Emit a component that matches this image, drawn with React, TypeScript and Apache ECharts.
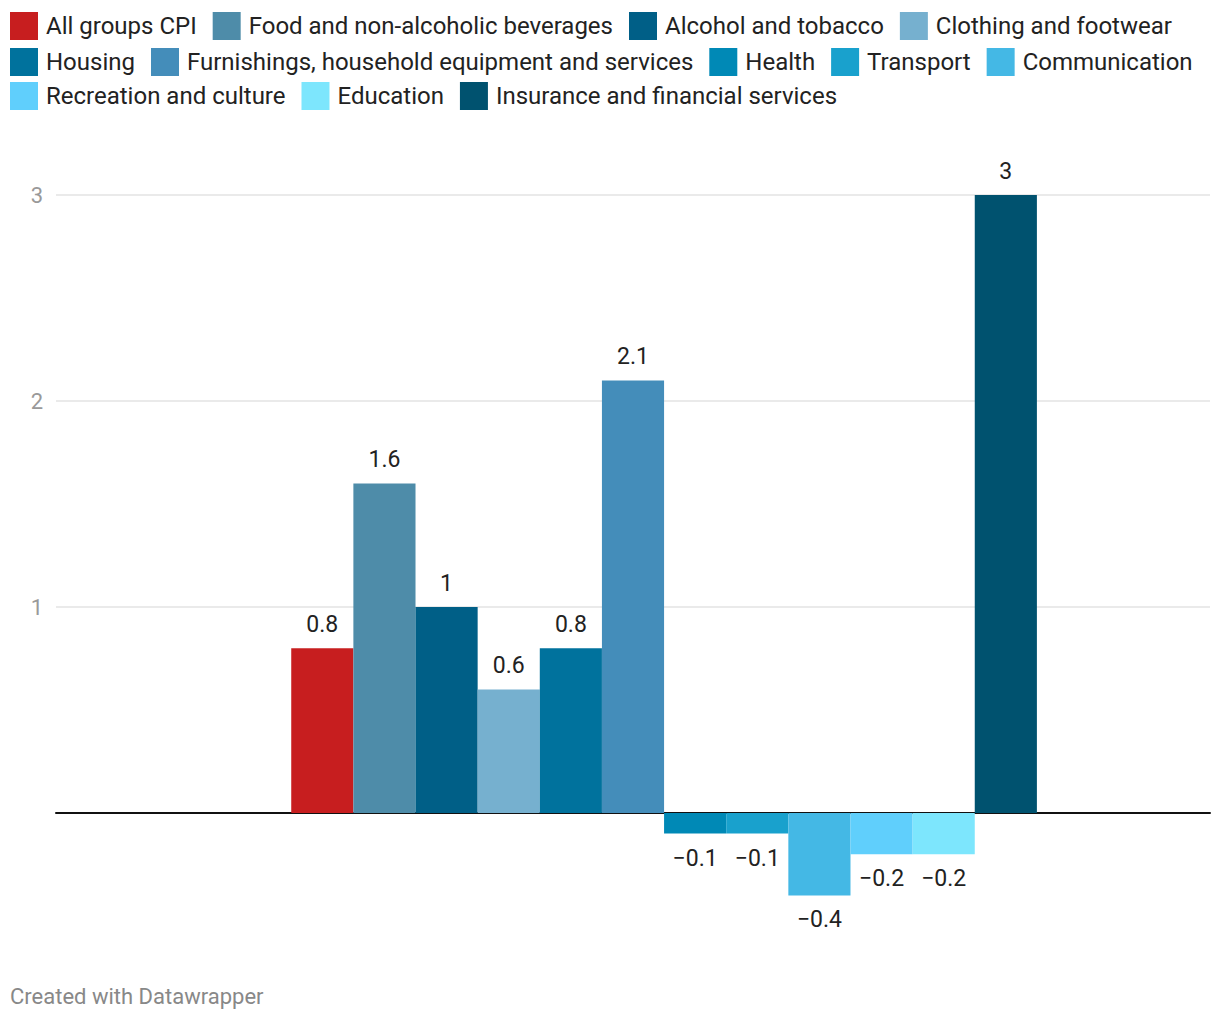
import React, { useEffect, useRef } from "react";
import * as echarts from "echarts";

const seriesNames = [
  "All groups CPI",
  "Food and non-alcoholic beverages",
  "Alcohol and tobacco",
  "Clothing and footwear",
  "Housing",
  "Furnishings, household equipment and services",
  "Health",
  "Transport",
  "Communication",
  "Recreation and culture",
  "Education",
  "Insurance and financial services",
];
const seriesValues = [0.8, 1.6, 1, 0.6, 0.8, 2.1, -0.1, -0.1, -0.4, -0.2, -0.2, 3];
const seriesColors = [
  "#c71e1f",
  "#4e8ca9",
  "#005f87",
  "#76b0cf",
  "#00729d",
  "#448dba",
  "#0089b6",
  "#19a1cd",
  "#44b8e5",
  "#60cffc",
  "#7de6fd",
  "#00526f",
];
const legendRows = [
  seriesNames.slice(0, 4),
  seriesNames.slice(4, 9),
  seriesNames.slice(9, 12),
];
const legendTops = [12, 48, 82];
const yTicks = [1, 2, 3];
const category = ["Change"];

const FONT = "Roboto, 'Noto Sans', sans-serif";

function fmt(v: number): string {
  return v < 0 ? "\u2212" + Math.abs(v) : String(v);
}

export default function App() {
  const ref = useRef<HTMLDivElement>(null);
  useEffect(() => {
    if (!ref.current) return;
    const chart = echarts.init(ref.current, undefined, { renderer: "svg" });
    const bars: any[] = [
      // leading empty slot in the group
      { type: "bar", name: "", data: [null], barGap: "0%", barCategoryGap: "30%" },
    ];
    seriesNames.forEach((name, i) => {
      const v = seriesValues[i];
      bars.push({
        type: "bar",
        name,
        barGap: "0%",
        barCategoryGap: "30%",
        itemStyle: { color: seriesColors[i] },
        data: [
          {
            value: v,
            label: {
              show: true,
              position: v < 0 ? "bottom" : "top",
              distance: v < 0 ? 13 : 12,
              formatter: () => fmt(v),
              color: "#222",
              fontSize: 23,
              fontFamily: FONT,
            },
          },
        ],
      });
    });
    chart.setOption({
      animation: false,
      color: seriesColors,
      legend: legendRows.map((row, r) => ({
        data: row,
        left: 10,
        top: legendTops[r],
        padding: 0,
        orient: "horizontal",
        icon: "rect",
        itemWidth: 28,
        itemHeight: 28,
        itemGap: 16,
        selectedMode: false,
        textStyle: {
          color: "#222",
          fontSize: 24,
          fontFamily: FONT,
          padding: [0, 0, 0, 3],
        },
      })),
      grid: { left: 56, right: 10, top: 195, bottom: 1, containLabel: false },
      xAxis: {
        type: "category",
        data: category,
        axisLine: { show: true, onZero: true, lineStyle: { color: "#111", width: 2 } },
        axisTick: { show: false },
        axisLabel: { show: false },
        splitLine: { show: false },
      },
      yAxis: {
        type: "value",
        min: -1,
        max: 3,
        interval: 1,
        axisLine: { show: false },
        axisTick: { show: false },
        axisLabel: {
          margin: 13,
          color: "#999",
          fontSize: 22,
          fontFamily: FONT,
          formatter: (v: number) => (yTicks.indexOf(v) >= 0 ? String(v) : ""),
        },
        splitLine: {
          show: true,
          showMinLine: false,
          lineStyle: { color: "#e3e3e3", width: 1.5 },
        },
      },
      graphic: [
        {
          type: "text",
          left: 10,
          top: 985,
          style: {
            text: "Created with Datawrapper",
            fill: "#888",
            fontSize: 22,
            fontFamily: FONT,
          },
        },
      ],
      series: bars,
    });
    return () => chart.dispose();
  }, []);
  return (
    <div
      ref={ref}
      style={{ position: "absolute", left: 0, top: 0, width: 1220, height: 1020 }}
    />
  );
}
